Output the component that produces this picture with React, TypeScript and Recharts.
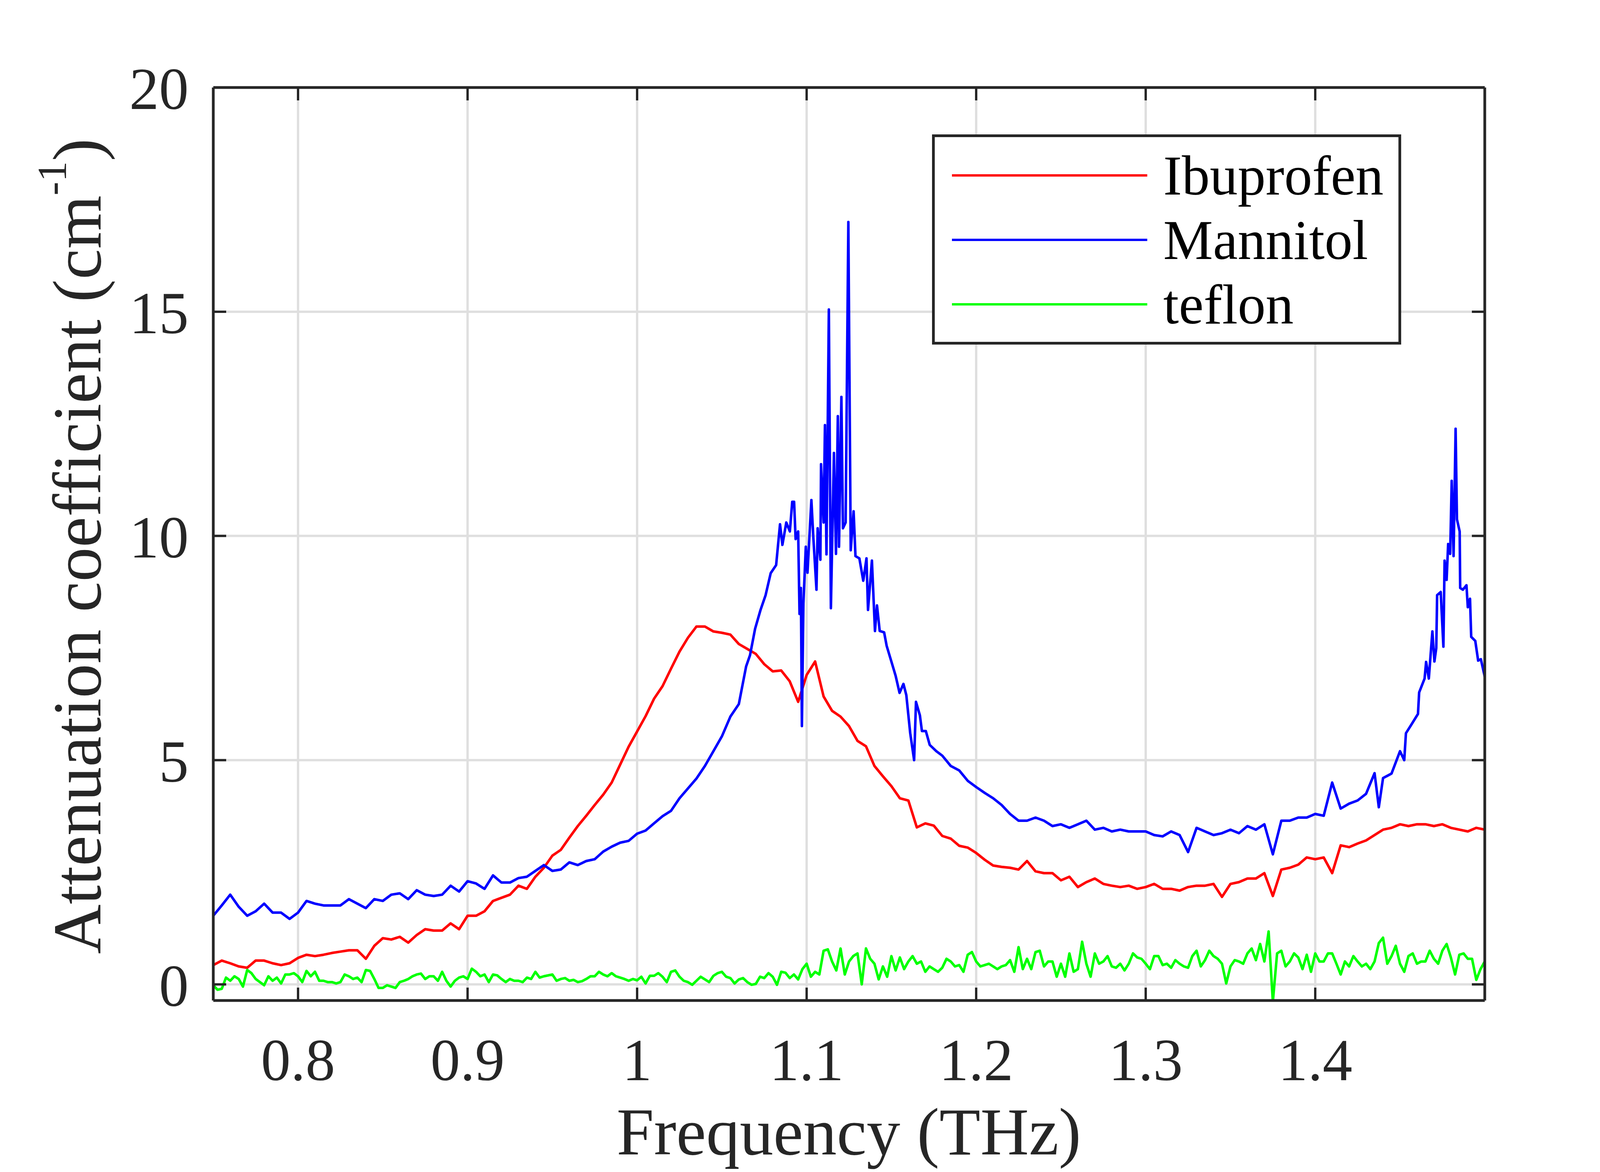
import React from 'react'
import { LineChart, Line, XAxis, YAxis, CartesianGrid, Legend } from 'recharts'

const FONT = '"Liberation Serif", "Times New Roman", serif'
const INK = '#262626'

const seriesNames = ['Ibuprofen', 'Mannitol', 'teflon']
const seriesColors = ['#ff0000', '#0000ff', '#00ff00']

const xTicks = [0.8, 0.9, 1, 1.1, 1.2, 1.3, 1.4]
const yTicks = [0, 5, 10, 15, 20]

// frequency grids (THz): 0.005 step for ibuprofen, 0.0025 step for teflon
const ibuFreq = Array.from({ length: 151 }, (_, i) => Math.round((0.75 + i * 0.005) * 10000) / 10000)
const teflonFreq = Array.from({ length: 301 }, (_, i) => Math.round((0.75 + i * 0.0025) * 10000) / 10000)

// attenuation (cm^-1)
const ibuprofen = [
  0.43, 0.53, 0.47, 0.40, 0.37, 0.53, 0.53, 0.47, 0.43, 0.47,
  0.59, 0.66, 0.63, 0.66, 0.70, 0.73, 0.76, 0.76, 0.57, 0.86,
  1.03, 1.00, 1.06, 0.93, 1.10, 1.23, 1.20, 1.20, 1.36, 1.23,
  1.53, 1.53, 1.63, 1.86, 1.93, 2.00, 2.20, 2.13, 2.40, 2.60,
  2.87, 3.00, 3.27, 3.53, 3.76, 4.00, 4.23, 4.50, 4.90, 5.30,
  5.64, 5.98, 6.37, 6.65, 7.04, 7.42, 7.73, 7.98, 7.98, 7.87,
  7.84, 7.80, 7.59, 7.48, 7.37, 7.14, 6.98, 7.00, 6.76, 6.30,
  6.90, 7.20, 6.42, 6.10, 5.97, 5.76, 5.43, 5.31, 4.87, 4.64,
  4.42, 4.15, 4.10, 3.50, 3.59, 3.54, 3.31, 3.25, 3.09, 3.05,
  2.93, 2.78, 2.65, 2.62, 2.60, 2.56, 2.75, 2.52, 2.48, 2.48,
  2.32, 2.40, 2.17, 2.28, 2.36, 2.24, 2.20, 2.17, 2.20, 2.13,
  2.17, 2.24, 2.13, 2.13, 2.09, 2.17, 2.20, 2.20, 2.24, 1.95,
  2.24, 2.28, 2.36, 2.36, 2.48, 1.97, 2.56, 2.60, 2.67, 2.83,
  2.79, 2.83, 2.48, 3.10, 3.06, 3.14, 3.21, 3.33, 3.45, 3.49,
  3.57, 3.53, 3.57, 3.57, 3.53, 3.57, 3.49, 3.45, 3.41, 3.49,
  3.45,
]

const teflon = [
  -0.02, -0.12, -0.10, 0.15, 0.08, 0.18, 0.12, -0.05, 0.32, 0.25, 0.12, 0.05, -0.02, 0.18, 0.08, 0.15, 0.02, 0.22, 0.22, 0.25,
  0.18, 0.05, 0.30, 0.18, 0.28, 0.08, 0.08, 0.05, 0.05, 0.02, 0.05, 0.22, 0.18, 0.12, 0.15, 0.05, 0.32, 0.30, 0.12, -0.08,
  -0.08, -0.02, -0.05, -0.08, 0.05, 0.08, 0.12, 0.18, 0.22, 0.24, 0.12, 0.18, 0.18, 0.08, 0.28, 0.08, -0.05, 0.08, 0.15, 0.18,
  0.12, 0.35, 0.28, 0.18, 0.22, 0.05, 0.22, 0.20, 0.12, 0.05, 0.12, 0.08, 0.08, 0.05, 0.15, 0.12, 0.28, 0.15, 0.18, 0.20,
  0.22, 0.08, 0.12, 0.14, 0.08, 0.10, 0.05, 0.07, 0.12, 0.18, 0.18, 0.28, 0.22, 0.18, 0.25, 0.18, 0.15, 0.12, 0.08, 0.12,
  0.09, 0.17, 0.02, 0.19, 0.19, 0.25, 0.17, 0.05, 0.28, 0.31, 0.17, 0.08, 0.05, -0.01, 0.08, 0.17, 0.11, 0.05, 0.19, 0.25,
  0.28, 0.17, 0.14, 0.02, 0.11, 0.14, 0.05, -0.01, 0.01, 0.17, 0.14, 0.25, 0.17, -0.01, 0.28, 0.26, 0.14, 0.22, 0.11, 0.34,
  0.46, 0.17, 0.28, 0.22, 0.75, 0.78, 0.51, 0.31, 0.80, 0.22, 0.51, 0.63, 0.69, 0.00, 0.80, 0.57, 0.46, 0.11, 0.40, 0.17,
  0.63, 0.31, 0.60, 0.34, 0.51, 0.63, 0.46, 0.51, 0.28, 0.40, 0.34, 0.28, 0.37, 0.57, 0.51, 0.40, 0.43, 0.28, 0.66, 0.72,
  0.51, 0.40, 0.43, 0.46, 0.40, 0.34, 0.40, 0.43, 0.54, 0.28, 0.83, 0.34, 0.57, 0.34, 0.72, 0.75, 0.40, 0.51, 0.51, 0.17,
  0.46, 0.17, 0.69, 0.28, 0.34, 0.95, 0.46, 0.17, 0.69, 0.46, 0.51, 0.63, 0.40, 0.37, 0.46, 0.31, 0.46, 0.69, 0.60, 0.57,
  0.46, 0.34, 0.63, 0.63, 0.43, 0.46, 0.37, 0.54, 0.46, 0.40, 0.37, 0.63, 0.75, 0.40, 0.54, 0.75, 0.63, 0.57, 0.46, 0.02,
  0.40, 0.54, 0.51, 0.46, 0.69, 0.80, 0.54, 0.90, 0.51, 1.18, -0.39, 0.69, 0.75, 0.40, 0.51, 0.69, 0.60, 0.34, 0.66, 0.28,
  0.69, 0.51, 0.51, 0.69, 0.69, 0.46, 0.22, 0.51, 0.40, 0.63, 0.51, 0.40, 0.46, 0.34, 0.51, 0.92, 1.04, 0.46, 0.63, 0.86,
  0.46, 0.28, 0.63, 0.69, 0.46, 0.51, 0.51, 0.75, 0.57, 0.46, 0.75, 0.90, 0.60, 0.22, 0.66, 0.69, 0.57, 0.57, 0.10, 0.34,
  0.51,
]

// mannitol has its own (denser around the sharp peaks) frequency list
const mannitolFreq = [
  0.750, 0.755, 0.760, 0.765, 0.770, 0.775, 0.780, 0.785, 0.790, 0.795,
  0.800, 0.805, 0.810, 0.815, 0.820, 0.825, 0.830, 0.835, 0.840, 0.845,
  0.850, 0.855, 0.860, 0.865, 0.870, 0.875, 0.880, 0.885, 0.890, 0.895,
  0.900, 0.905, 0.910, 0.915, 0.920, 0.925, 0.930, 0.935, 0.940, 0.945,
  0.950, 0.955, 0.960, 0.965, 0.970, 0.975, 0.980, 0.985, 0.990, 0.995,
  1.000, 1.005, 1.010, 1.015, 1.020, 1.025, 1.030, 1.035, 1.040, 1.045,
  1.050, 1.055, 1.060, 1.0643, 1.0666, 1.0696, 1.0728, 1.0758, 1.0788, 1.0820,
  1.0843, 1.0857, 1.0880, 1.0901, 1.0915, 1.0926, 1.0935, 1.0950, 1.0958, 1.0966,
  1.0972, 1.0981, 1.0995, 1.1005, 1.1028, 1.1039, 1.1058, 1.1065, 1.1081, 1.1085,
  1.1100, 1.1108, 1.1117, 1.1131, 1.1143, 1.1161, 1.1173, 1.1184, 1.1191, 1.1205,
  1.1214, 1.1230, 1.1246, 1.1260, 1.1277, 1.1288, 1.1311, 1.1334, 1.1353, 1.1362,
  1.1385, 1.1403, 1.1415, 1.1431, 1.1457, 1.1472, 1.1495, 1.1525, 1.1548, 1.1571,
  1.1588, 1.1611, 1.1634, 1.1645, 1.1668, 1.1680, 1.1703, 1.1726, 1.1765, 1.180,
  1.185, 1.190, 1.195, 1.200, 1.205, 1.210, 1.215, 1.220, 1.225, 1.230,
  1.235, 1.240, 1.245, 1.250, 1.255, 1.260, 1.265, 1.270, 1.275, 1.280,
  1.285, 1.290, 1.295, 1.300, 1.305, 1.310, 1.315, 1.320, 1.325, 1.330,
  1.335, 1.340, 1.345, 1.350, 1.355, 1.360, 1.365, 1.370, 1.375, 1.380,
  1.385, 1.390, 1.395, 1.400, 1.405, 1.410, 1.415, 1.420, 1.425, 1.430,
  1.435, 1.4375, 1.440, 1.445, 1.450, 1.4525, 1.4535, 1.4565, 1.4606, 1.4613,
  1.4645, 1.4654, 1.4670, 1.4691, 1.4703, 1.4714, 1.4719, 1.4740, 1.4756, 1.4763,
  1.4775, 1.4784, 1.4796, 1.4805, 1.4816, 1.4828, 1.4836, 1.4852, 1.4855, 1.4871,
  1.4892, 1.4900, 1.4913, 1.4920, 1.4944, 1.4961, 1.4977, 1.500,
]

const mannitol = [
  1.53, 1.76, 2.00, 1.73, 1.53, 1.63, 1.80, 1.60, 1.60, 1.46,
  1.60, 1.86, 1.80, 1.76, 1.76, 1.76, 1.90, 1.80, 1.70, 1.90,
  1.86, 2.00, 2.03, 1.90, 2.10, 2.00, 1.97, 2.00, 2.20, 2.07,
  2.30, 2.25, 2.13, 2.43, 2.27, 2.27, 2.37, 2.40, 2.53, 2.66,
  2.53, 2.56, 2.72, 2.66, 2.75, 2.79, 2.96, 3.07, 3.16, 3.20,
  3.36, 3.43, 3.59, 3.75, 3.87, 4.15, 4.37, 4.59, 4.87, 5.20,
  5.53, 5.97, 6.25, 7.09, 7.34, 7.93, 8.35, 8.68, 9.17, 9.35,
  10.26, 9.80, 10.30, 10.10, 10.76, 10.76, 9.93, 10.10, 8.26, 8.84,
  5.76, 8.50, 9.76, 9.18, 10.80, 10.00, 8.80, 10.17, 9.47, 11.60,
  10.30, 12.47, 9.59, 15.05, 8.39, 11.85, 9.60, 12.67, 9.76, 13.10,
  10.17, 10.30, 17.00, 9.68, 10.55, 9.55, 9.50, 9.00, 9.50, 8.35,
  9.45, 7.88, 8.45, 7.88, 7.85, 7.55, 7.26, 6.88, 6.50, 6.70,
  6.45, 5.60, 5.00, 6.30, 6.00, 5.65, 5.65, 5.34, 5.20, 5.10,
  4.87, 4.77, 4.54, 4.40, 4.27, 4.15, 4.00, 3.80, 3.65, 3.65,
  3.72, 3.65, 3.53, 3.57, 3.49, 3.57, 3.65, 3.45, 3.49, 3.41,
  3.45, 3.41, 3.41, 3.41, 3.33, 3.30, 3.41, 3.33, 2.95, 3.49,
  3.41, 3.33, 3.37, 3.45, 3.37, 3.53, 3.45, 3.57, 2.90, 3.65,
  3.65, 3.72, 3.72, 3.80, 3.76, 4.50, 3.92, 4.03, 4.10, 4.25,
  4.71, 3.95, 4.60, 4.70, 5.20, 5.00, 5.60, 5.78, 6.03, 6.51,
  6.82, 7.19, 6.82, 7.87, 7.20, 7.50, 8.68, 8.75, 7.53, 9.45,
  9.02, 9.82, 9.60, 11.23, 9.55, 12.39, 10.37, 10.10, 8.84, 8.80,
  8.90, 8.41, 8.60, 7.75, 7.66, 7.22, 7.25, 6.86,
]

const ibuData = ibuFreq.map((f, i) => ({ f, v: ibuprofen[i] }))
const teflonData = teflonFreq.map((f, i) => ({ f, v: teflon[i] }))
const mannitolData = mannitolFreq.map((f, i) => ({ f, v: mannitol[i] }))

const BottomTick = ({ x, y, payload }: any) => (
  <g>
    <line x1={x} x2={x} y1={y} y2={y - 33} stroke={INK} strokeWidth={6} />
    <text x={x} y={y + 204} textAnchor="middle" fontSize={152} fontFamily={FONT} fill={INK}>
      {payload.value}
    </text>
  </g>
)

const TopTick = ({ x, y }: any) => (
  <line x1={x} x2={x} y1={y} y2={y + 33} stroke={INK} strokeWidth={6} />
)

const LeftTick = ({ x, y, payload }: any) => (
  <g>
    <line x1={x} x2={x + 33} y1={y} y2={y} stroke={INK} strokeWidth={6} />
    <text x={x - 63} y={y + 55} textAnchor="end" fontSize={152} fontFamily={FONT} fill={INK}>
      {payload.value}
    </text>
  </g>
)

const RightTick = ({ x, y }: any) => (
  <line x1={x} x2={x - 33} y1={y} y2={y} stroke={INK} strokeWidth={6} />
)

const XTitle = () => (
  <text x={2173} y={2955} textAnchor="middle" fontSize={172} fontFamily={FONT} fill={INK}>
    Frequency (THz)
  </text>
)

const YTitle = () => (
  <text
    transform="translate(257, 1398) rotate(-90)"
    textAnchor="middle"
    fontSize={176}
    fontFamily={FONT}
    fill={INK}
  >
    Attenuation coefficient (cm
    <tspan dy={-88} fontSize={105}>-1</tspan>
    <tspan dy={88}>)</tspan>
  </text>
)

const LegendBox = ({ payload }: any) => {
  const items = [...(payload || [])].sort(
    (a: any, b: any) => seriesNames.indexOf(a.value) - seriesNames.indexOf(b.value)
  )
  return (
    <svg width={1201} height={538} style={{ display: 'block' }}>
      <rect x={3.5} y={3.5} width={1194} height={531} fill="#fff" stroke={INK} strokeWidth={7} />
      {items.map((it: any, i: number) => {
        const cy = 105 + i * 165
        return (
          <g key={it.value}>
            <line x1={51} x2={551} y1={cy} y2={cy} stroke={it.color} strokeWidth={6} />
            <text x={592} y={cy + 49} fontSize={143} fontFamily={FONT} fill="#000">
              {it.value}
            </text>
          </g>
        )
      })}
    </svg>
  )
}

const lineStyle = {
  dataKey: 'v',
  strokeWidth: 6.5,
  strokeLinejoin: 'round' as const,
  dot: false,
  activeDot: false,
  type: 'linear' as const,
  isAnimationActive: false,
}

export default function App() {
  return (
    <div style={{ position: 'absolute', left: 0, top: 0, width: 4200, height: 3000, background: '#fff' }}>
      <LineChart width={4200} height={3000} margin={{ top: 0, right: 0, bottom: 0, left: 0 }}>
        <CartesianGrid stroke="#dfdfdf" strokeWidth={6} />
        <XAxis
          dataKey="f"
          type="number"
          domain={[0.75, 1.5]}
          ticks={xTicks}
          interval={0}
          allowDataOverflow
          height={439}
          tickSize={0}
          tickMargin={0}
          tickLine={false}
          tick={<BottomTick />}
          axisLine={{ stroke: INK, strokeWidth: 7 }}
          label={<XTitle />}
        />
        <XAxis
          xAxisId="top"
          orientation="top"
          dataKey="f"
          type="number"
          domain={[0.75, 1.5]}
          ticks={xTicks}
          interval={0}
          allowDataOverflow
          height={224}
          tickSize={0}
          tickMargin={0}
          tickLine={false}
          tick={<TopTick />}
          axisLine={{ stroke: INK, strokeWidth: 7 }}
        />
        <YAxis
          type="number"
          domain={[-0.36, 20]}
          ticks={yTicks}
          interval={0}
          allowDataOverflow
          width={546}
          tickSize={0}
          tickMargin={0}
          tickLine={false}
          tick={<LeftTick />}
          axisLine={{ stroke: INK, strokeWidth: 7 }}
          label={<YTitle />}
        />
        <YAxis
          yAxisId="right"
          orientation="right"
          type="number"
          domain={[-0.36, 20]}
          ticks={yTicks}
          interval={0}
          allowDataOverflow
          width={399}
          tickSize={0}
          tickMargin={0}
          tickLine={false}
          tick={<RightTick />}
          axisLine={{ stroke: INK, strokeWidth: 7 }}
        />
        <Legend
          layout="horizontal"
          align="center"
          verticalAlign="middle"
          width={1201}
          height={538}
          wrapperStyle={{ left: 2386, top: 344, width: 1201, height: 538 }}
          content={(props: any) => <LegendBox payload={props.payload} />}
        />
        <Line {...lineStyle} data={ibuData} name={seriesNames[0]} stroke={seriesColors[0]} />
        <Line {...lineStyle} data={mannitolData} name={seriesNames[1]} stroke={seriesColors[1]} />
        <Line {...lineStyle} data={teflonData} name={seriesNames[2]} stroke={seriesColors[2]} />
      </LineChart>
    </div>
  )
}
